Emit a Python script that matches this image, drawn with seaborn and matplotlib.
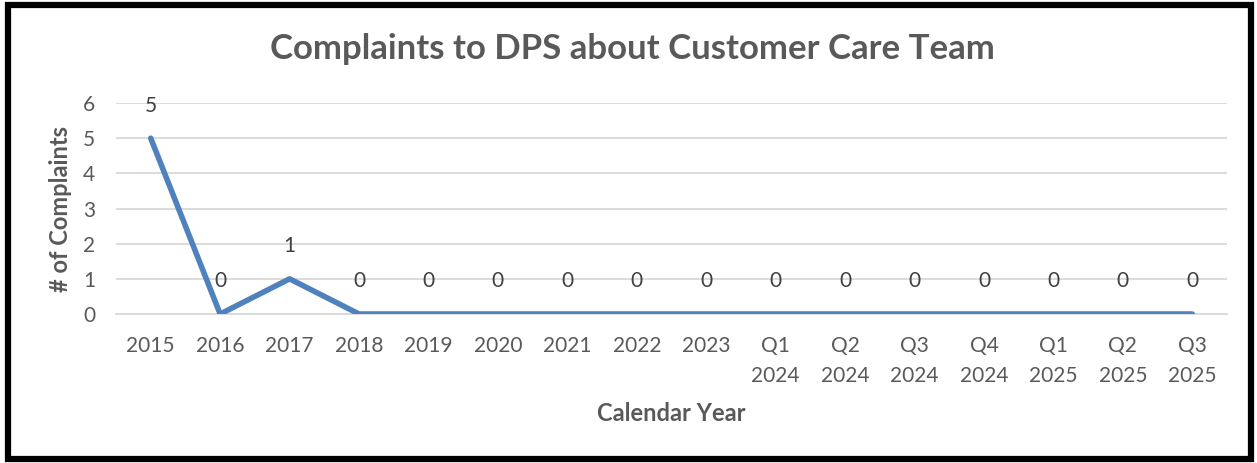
import matplotlib
matplotlib.use("Agg")
import matplotlib.pyplot as plt
from matplotlib.patches import Rectangle
import seaborn as sns
import pandas as pd

periods = ["2015", "2016", "2017", "2018", "2019", "2020", "2021", "2022", "2023",
           "Q1\n2024", "Q2\n2024", "Q3\n2024", "Q4\n2024",
           "Q1\n2025", "Q2\n2025", "Q3\n2025"]
complaints = [5, 0, 1, 0, 0, 0, 0, 0, 0, 0, 0, 0, 0, 0, 0, 0]
y_ticks = [0, 1, 2, 3, 4, 5, 6]

sns.set_theme(style="white")
plt.rcParams["font.family"] = ["Lato", "DejaVu Sans"]

text_gray = "#595959"
line_blue = "#4F81BD"
grid_gray = "#D9D9D9"

df = pd.DataFrame({"period": periods, "complaints": complaints})

fig = plt.figure(figsize=(12.57, 4.63), dpi=100)
ax = fig.add_axes([0.0923, 0.3218, 0.8838, 0.4557])

sns.lineplot(data=df, x="period", y="complaints", ax=ax, color=line_blue,
             linewidth=4.0, sort=False, solid_capstyle="round", zorder=3)

ax.set_xlim(-0.5, len(periods) - 0.5)
ax.set_ylim(0, 6)
ax.set_yticks(y_ticks)
ax.set_yticklabels([str(t) for t in y_ticks])
ax.set_xticks(range(len(periods)))
ax.set_xticklabels(periods, linespacing=1.6)
ax.tick_params(axis="both", length=0, colors=text_gray, labelsize=15)
ax.tick_params(axis="x", pad=16)
ax.tick_params(axis="y", pad=15)
for lbl in ax.get_xticklabels():
    lbl.set_verticalalignment("top")

ax.grid(axis="y", color=grid_gray, linewidth=1.3, zorder=0)
ax.grid(axis="x", visible=False)
for side in ["top", "right", "left"]:
    ax.spines[side].set_visible(False)
ax.spines["bottom"].set_color(grid_gray)
ax.spines["bottom"].set_linewidth(1.3)

# value labels placed above each point
for i, v in enumerate(complaints):
    ax.annotate(str(v), xy=(i, v), xytext=(0, 23.5), textcoords="offset points",
                ha="center", va="center", fontsize=15, color="#404040", zorder=4)

ax.set_xlabel("Calendar Year", fontsize=17, fontweight="bold", color=text_gray, labelpad=12)
ax.set_ylabel("# of Complaints", fontsize=17, fontweight="bold", color=text_gray, labelpad=8)

fig.text(0.503, 0.895, "Complaints to DPS about Customer Care Team", ha="center", va="center",
         fontsize=25, fontweight="bold", color=text_gray)

# outer frame around the whole chart
fig.patches.append(Rectangle((0.0064, 0.0086), 0.9888, 0.9806, transform=fig.transFigure,
                             fill=False, edgecolor="black", linewidth=4.5, zorder=10))

fig.savefig("out.png", dpi=100, facecolor="white")
